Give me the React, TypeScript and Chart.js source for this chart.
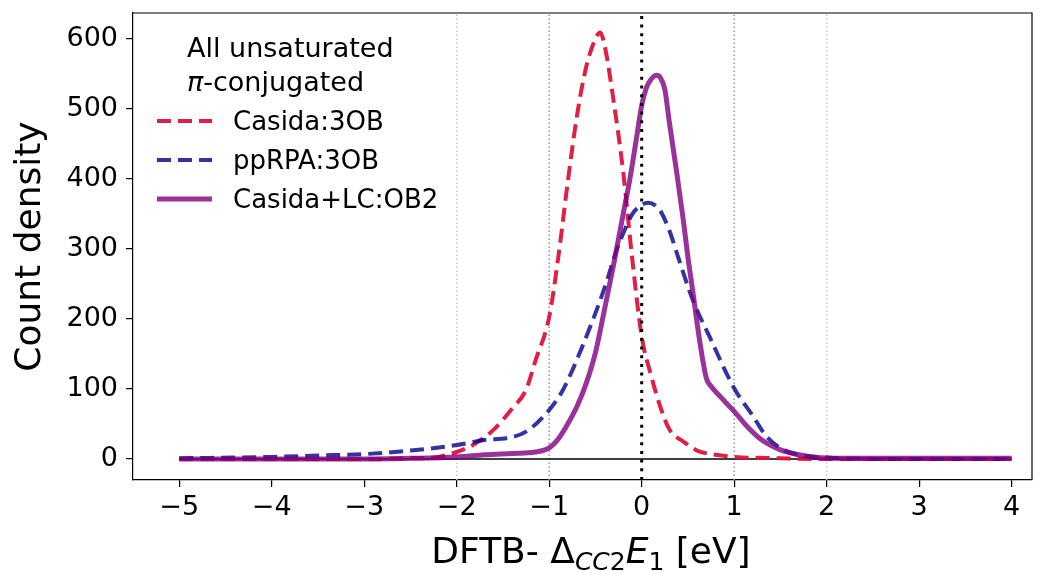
import React, { useEffect, useRef } from "react";
import { Chart, registerables } from "chart.js";

Chart.register(...registerables);

// ---------- data ----------
const casidaX = [-5, -4, -3, -2.5, -2.2, -2.0, -1.8, -1.6, -1.4, -1.25, -1.15, -1.0, -0.9, -0.8, -0.7, -0.6, -0.5, -0.45, -0.4, -0.3, -0.2, -0.1, 0.0, 0.1, 0.2, 0.3, 0.45, 0.6, 0.8, 1.0, 1.5, 2, 3, 4];
const casidaY = [0, 0, 0, 1, 3, 10, 22, 42, 72, 99, 140, 203, 290, 395, 490, 560, 600, 609, 590, 508, 410, 283, 175, 120, 75, 42, 25, 12, 6, 3, 1, 0, 0, 0];

const pprpaX = [-5, -4, -3.5, -3, -2.5, -2.0, -1.7, -1.45, -1.25, -1.0, -0.85, -0.65, -0.4, -0.27, -0.2, -0.1, 0.0, 0.07, 0.15, 0.2, 0.3, 0.4, 0.55, 0.75, 1.0, 1.2, 1.35, 1.55, 1.8, 2.0, 2.5, 3, 4];
const pprpaY = [1, 3, 5, 7, 12, 20, 27, 30, 39, 70, 99, 158, 245, 299, 322, 350, 363, 366, 362, 355, 326, 286, 228, 170, 101, 62, 32, 12, 4, 2, 0, 0, 0];

const lcX = [-5, -4, -3, -2.5, -2.0, -1.7, -1.4, -1.15, -1.0, -0.9, -0.8, -0.7, -0.6, -0.5, -0.4, -0.3, -0.2, -0.13, -0.06, 0.0, 0.05, 0.1, 0.16, 0.2, 0.25, 0.3, 0.38, 0.45, 0.5, 0.55, 0.63, 0.7, 0.75, 0.85, 1.0, 1.15, 1.3, 1.5, 1.7, 1.9, 2.1, 3, 4];
const lcY = [0, 0, 0, 1, 3, 6, 8, 10, 16, 29, 50, 75, 108, 152, 215, 280, 350, 398, 455, 505, 530, 542, 548, 545, 528, 480, 408, 341, 288, 242, 166, 115, 104, 89, 68, 45, 27, 13, 6, 2, 1, 1, 1];

const seriesNames = ["Casida:3OB", "ppRPA:3OB", "Casida+LC:OB2"];
const seriesColors = ["rgba(220,20,60,0.95)", "rgba(0,0,139,0.8)", "rgba(128,0,128,0.8)"];
const legendTitle = ["All unsaturated", "-conjugated"];

const xTicks = [-5, -4, -3, -2, -1, 0, 1, 2, 3, 4];
const yTicks = [0, 100, 200, 300, 400, 500, 600];
const xRange = [-5.5, 4.22];
const yRange = [-30, 637];
const guideLightX = [-2, 2];
const guideDarkX = [-1, 1];
const centerLineX = [0];
const zeroLineX = [-5, 4];

const FONT = "'DejaVu Sans', 'Liberation Sans', sans-serif";

const fmt = (v: number) => String(v).replace("-", "\u2212");

const decor = {
  id: "decor",
  afterDraw(chart: any) {
    const { ctx, chartArea } = chart;
    const { left, right, top, bottom } = chartArea;
    ctx.save();
    ctx.strokeStyle = "#000";
    ctx.lineWidth = 1.2;
    ctx.setLineDash([]);
    ctx.beginPath();
    ctx.moveTo(left, top);
    ctx.lineTo(right, top);
    ctx.lineTo(right, bottom);
    ctx.stroke();

    // legend
    ctx.fillStyle = "#000";
    ctx.textAlign = "left";
    ctx.textBaseline = "alphabetic";
    ctx.font = `27px ${FONT}`;
    ctx.fillText(legendTitle[0], 187, 57);
    ctx.font = `italic 27px ${FONT}`;
    ctx.fillText("\u03c0", 187, 91);
    const pw = ctx.measureText("\u03c0").width;
    ctx.font = `27px ${FONT}`;
    ctx.fillText(legendTitle[1], 187 + pw, 91);

    const rows = [121, 160, 199];
    seriesNames.forEach((name, i) => {
      const y = rows[i];
      ctx.strokeStyle = seriesColors[i];
      ctx.lineWidth = i === 2 ? 5 : 4;
      ctx.setLineDash(i === 2 ? [] : [14, 7]);
      ctx.beginPath();
      ctx.moveTo(157, y);
      ctx.lineTo(212, y);
      ctx.stroke();
      ctx.setLineDash([]);
      ctx.fillStyle = "#000";
      ctx.font = `26px ${FONT}`;
      ctx.fillText(name, 233, y + 9);
    });

    // y title
    ctx.save();
    ctx.translate(40, (top + bottom) / 2);
    ctx.rotate(-Math.PI / 2);
    ctx.textAlign = "center";
    ctx.font = `36px ${FONT}`;
    ctx.fillText("Count density", 0, 0);
    ctx.restore();

    // x title with sub/italic parts
    const parts: [string, string, number][] = [
      ["DFTB- ", `36px ${FONT}`, 0],
      ["\u0394", `36px ${FONT}`, 0],
      ["CC", `italic 25px ${FONT}`, 7],
      ["2", `25px ${FONT}`, 7],
      ["E", `italic 36px ${FONT}`, 0],
      ["1", `25px ${FONT}`, 7],
      [" [eV]", `36px ${FONT}`, 0],
    ];
    let total = 0;
    parts.forEach(([t, f]) => {
      ctx.font = f;
      total += ctx.measureText(t).width;
    });
    let x = 591 - total / 2;
    const base = 563;
    parts.forEach(([t, f, dy]) => {
      ctx.font = f;
      ctx.fillText(t, x, base + dy);
      x += ctx.measureText(t).width;
    });
    ctx.restore();
  },
};

const vline = (xv: number) => [
  { x: xv, y: yRange[0] },
  { x: xv, y: yRange[1] },
];

export default function App() {
  const ref = useRef<HTMLCanvasElement>(null);
  useEffect(() => {
    const mk = (xs: number[], ys: number[]) => xs.map((x, i) => ({ x, y: ys[i] }));
    const datasets: any[] = [];
    guideLightX.forEach((g) =>
      datasets.push({ data: vline(g), borderColor: "#c8c8c8", borderWidth: 1.5, borderDash: [1.5, 2.5], order: 10 })
    );
    guideDarkX.forEach((g) =>
      datasets.push({ data: vline(g), borderColor: "#999999", borderWidth: 1.5, borderDash: [1.5, 2.5], order: 10 })
    );
    datasets.push({
      data: zeroLineX.map((x) => ({ x, y: 0 })),
      borderColor: "#000",
      borderWidth: 1.5,
      order: 9,
    });
    const xs = [casidaX, pprpaX, lcX];
    const ys = [casidaY, pprpaY, lcY];
    seriesNames.forEach((n, i) => {
      datasets.push({
        label: n,
        data: mk(xs[i], ys[i]),
        borderColor: seriesColors[i],
        borderWidth: i === 2 ? 5 : 4,
        borderDash: i === 2 ? [] : [14, 7],
        cubicInterpolationMode: "monotone",
        order: 5 - i,
      });
    });
    centerLineX.forEach((c) =>
      datasets.push({ data: vline(c), borderColor: "#000", borderWidth: 3, borderDash: [3, 5.7], order: 1 })
    );
    datasets.forEach((d) => {
      d.showLine = true;
      d.pointRadius = 0;
      d.fill = false;
    });

    const tickFont = { family: FONT, size: 27 };
    const chart = new Chart(ref.current as HTMLCanvasElement, {
      type: "scatter",
      data: { datasets },
      options: {
        responsive: true,
        maintainAspectRatio: false,
        animation: false,
        layout: { padding: { top: 13, right: 12, left: 0, bottom: 0 } },
        plugins: { legend: { display: false }, tooltip: { enabled: false } },
        scales: {
          x: {
            type: "linear",
            min: xRange[0],
            max: xRange[1],
            afterBuildTicks: (s: any) => {
              s.ticks = xTicks.map((v) => ({ value: v }));
            },
            afterFit: (s: any) => {
              s.height = 93;
              s.paddingLeft = 0;
              s.paddingRight = 0;
            },
            grid: { drawOnChartArea: false, drawTicks: true, tickLength: 7, color: "#000", lineWidth: 1.2 },
            border: { display: true, color: "#000", width: 1.2 },
            ticks: {
              color: "#000",
              font: tickFont,
              padding: 5,
              maxRotation: 0,
              autoSkip: false,
              callback: (v: any) => fmt(Number(v)),
            },
          },
          y: {
            type: "linear",
            min: yRange[0],
            max: yRange[1],
            afterBuildTicks: (s: any) => {
              s.ticks = yTicks.map((v) => ({ value: v }));
            },
            afterFit: (s: any) => {
              s.width = 133;
              s.paddingTop = 0;
              s.paddingBottom = 0;
            },
            grid: { drawOnChartArea: false, drawTicks: true, tickLength: 7, color: "#000", lineWidth: 1.2 },
            border: { display: true, color: "#000", width: 1.2 },
            ticks: {
              color: "#000",
              font: tickFont,
              padding: 8,
              autoSkip: false,
              callback: (v: any) => fmt(Number(v)),
            },
          },
        },
      } as any,
      plugins: [decor],
    });
    return () => chart.destroy();
  }, []);
  return (
    <div style={{ position: "fixed", left: 0, top: 0, width: 1044, height: 573, background: "#fff" }}>
      <canvas ref={ref} />
    </div>
  );
}
